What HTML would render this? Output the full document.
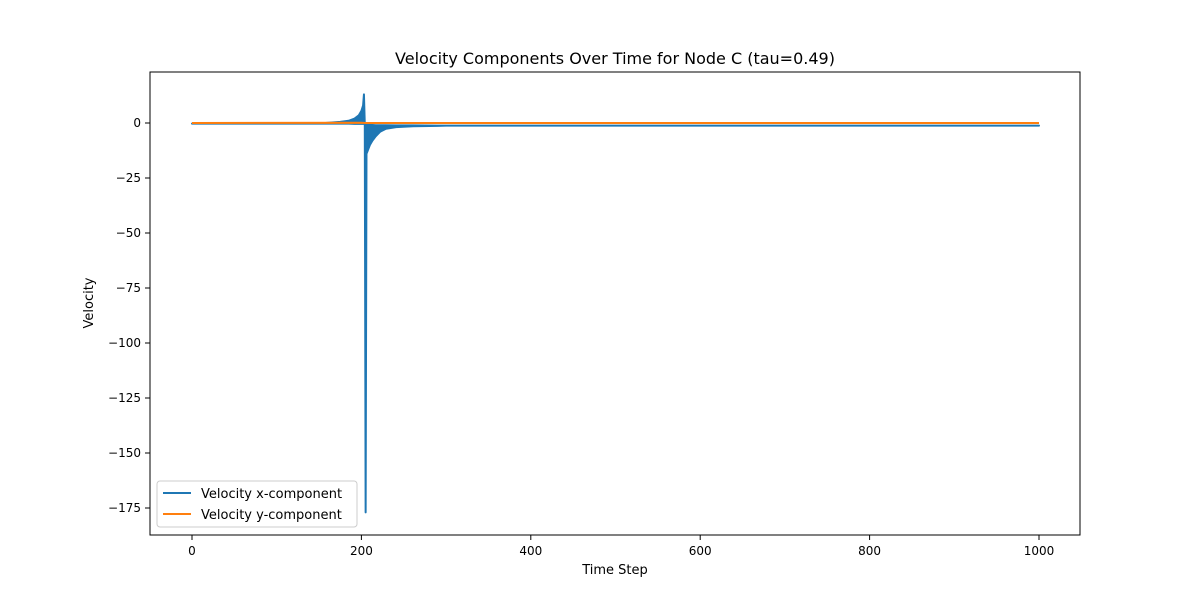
<!DOCTYPE html>
<html><head><meta charset="utf-8"><style>
body{margin:0;background:#fff;font-family:"Liberation Sans","DejaVu Sans",sans-serif;}
svg text{font-family:"DejaVu Sans","Liberation Sans",sans-serif;}
</style></head><body>
<svg id="chart" width="1200" height="600" xmlns="http://www.w3.org/2000/svg">
<rect width="1200" height="600" fill="#fff"/>
<text x="615" y="64" font-size="16" text-anchor="middle">Velocity Components Over Time for Node C (tau=0.49)</text>
<g id="xticks"></g>
<g id="yticks"></g>
<g id="series"></g>
<rect x="150" y="72" width="930" height="463" fill="none" stroke="#000" stroke-width="1"/>
<text x="615" y="574" font-size="13" text-anchor="middle">Time Step</text>
<text x="93" y="303" font-size="13" text-anchor="middle" transform="rotate(-90 93 303)">Velocity</text>
<g>
<rect x="157" y="481" width="200" height="46" rx="3" fill="#fff" stroke="#ccc"/>
<line x1="163" y1="493" x2="191" y2="493" stroke="#1f77b4" stroke-width="2"/>
<text x="201" y="498" font-size="13">Velocity x-component</text>
<line x1="163" y1="514" x2="191" y2="514" stroke="#ff7f0e" stroke-width="2"/>
<text x="201" y="519" font-size="13">Velocity y-component</text>
</g>
</svg>
<script>
const xTickVals=[0,200,400,600,800,1000];
const yTickVals=[0,-25,-50,-75,-100,-125,-150,-175];
// x-component: oscillation envelope (upper/lower) per time step
const xSteps=[0,150,165,175,185,192,197,200,202,203,204,205,206,207,208,210,213,217,222,229,241,261,290,300,1000];
const xUpper=[-0.3,-0.2,0.2,0.5,1,2,3.5,5.5,8,13,-0.6,-0.7,-0.8,-0.8,-0.9,-0.9,-0.9,-1,-1,-1,-1.1,-1.1,-1.2,-1.2,-1.2];
const xLower=[-0.3,-0.3,-0.3,-0.3,-0.3,-0.4,-0.4,-0.4,-0.4,-0.4,-0.6,-177,-14,-13,-12,-10,-8,-6,-4,-2.6,-1.9,-1.5,-1.3,-1.2,-1.2];
const ySteps=[0,200,205,1000];
const yVals=[0,0.1,0,0];
const X=v=>192+v*(1039-192)/1000;
const Y=v=>123+(-v)*(508-123)/175;
const NS="http://www.w3.org/2000/svg";
const mk=(t,a,p)=>{const e=document.createElementNS(NS,t);for(const k in a)e.setAttribute(k,a[k]);p.appendChild(e);return e;};
const xt=document.getElementById('xticks'),yt=document.getElementById('yticks'),sg=document.getElementById('series');
xTickVals.forEach(v=>{
 const l=mk('line',{x1:X(v),x2:X(v),y1:535,y2:540,stroke:'#000'},xt);
 
 
 const t=mk('text',{x:X(v),y:555,'font-size':12,'text-anchor':'middle'},xt);t.textContent=v;
 
 
});
yTickVals.forEach(v=>{
 const l=mk('line',{x1:145,x2:150,y1:Y(v),y2:Y(v),stroke:'#000'},yt);
 
 
 const t=mk('text',{x:141,y:Y(v)+4,'font-size':12,'text-anchor':'end'},yt);t.textContent=v<0?'\u2212'+(-v):v;
 
 
});
const up=xSteps.map((s,i)=>X(s)+','+Y(xUpper[i]));
const lo=xSteps.map((s,i)=>X(s)+','+Y(xLower[i])).reverse();
const px=mk('polygon',{points:up.concat(lo).join(' '),fill:'#1f77b4',stroke:'#1f77b4','stroke-width':2,'stroke-linejoin':'round'},sg);


const py=mk('polyline',{points:ySteps.map((s,i)=>X(s)+','+Y(yVals[i])).join(' '),fill:'none',stroke:'#ff7f0e','stroke-width':2},sg);


</script>
</body></html>
